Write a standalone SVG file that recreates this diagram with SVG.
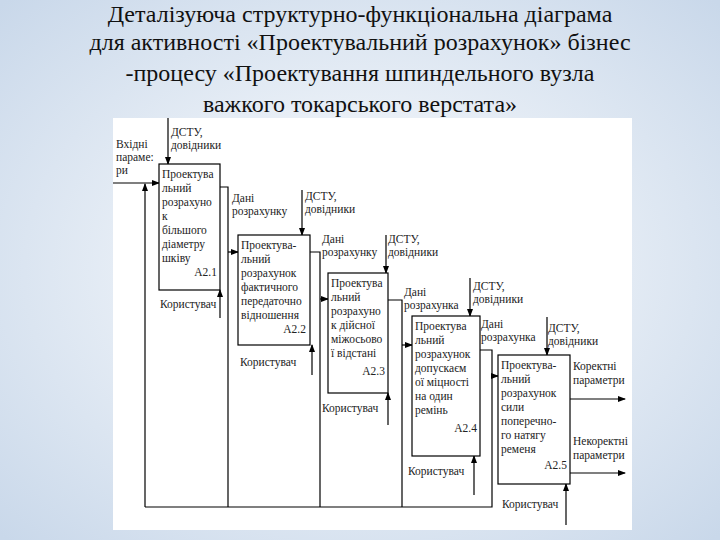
<svg xmlns="http://www.w3.org/2000/svg" width="720" height="540" viewBox="0 0 720 540">
<defs>
<radialGradient id="bg" cx="50%" cy="50%" r="70%"><stop offset="0" stop-color="#ffffff"/><stop offset="1" stop-color="#c9d8ea"/></radialGradient>
<marker id="ar" markerWidth="8" markerHeight="6" refX="7" refY="3" orient="auto" markerUnits="userSpaceOnUse"><path d="M0,0 L8,3 L0,6 z" fill="#000"/></marker>
<style>
.t{font-family:"Liberation Serif",serif;font-size:24px;fill:#111;text-anchor:middle}
.s{font-family:"Liberation Serif",serif;font-size:11.5px;fill:#222}
.b{fill:#fff;stroke:#000;stroke-width:1.2}
.l{fill:none;stroke:#000;stroke-width:1.2}
.a{fill:none;stroke:#000;stroke-width:1.2;marker-end:url(#ar)}
</style>
</defs>
<rect width="720" height="540" fill="url(#bg)"/>
<text class="t" x="360" y="22">Деталізуюча структурно-функціональна діаграма</text>
<text class="t" x="360" y="50">для активності «Проектувальний розрахунок» бізнес</text>
<text class="t" x="360" y="81">-процесу «Проектування шпиндельного вузла</text>
<text class="t" x="360" y="112">важкого токарського верстата»</text>
<rect x="113" y="118" width="519" height="412" fill="#fff"/>
<g id="connectors">
<path class="a" d="M113,183 H159"/>
<path class="a" d="M168,118 V164"/>
<path class="a" d="M220,318 V290"/>
<path class="l" d="M220,187 H228 V507"/>
<path class="a" d="M228,252 H238"/>
<path class="a" d="M302,190 V235"/>
<path class="a" d="M312,375 V345"/>
<path class="l" d="M310,252 H320 V507"/>
<path class="a" d="M320,299 H328"/>
<path class="a" d="M386,235 V273"/>
<path class="a" d="M388,425 V393"/>
<path class="l" d="M388,300 H402 V507"/>
<path class="a" d="M402,345 H412"/>
<path class="a" d="M470,278 V316"/>
<path class="a" d="M474,495 V456"/>
<path class="l" d="M480,350 H492 V507 H145"/>
<path class="a" d="M145,507 V184"/>
<path class="a" d="M492,376 H498"/>
<path class="a" d="M547,317 V355"/>
<path class="a" d="M566,525 V484"/>
<path class="a" d="M570,399 H625"/>
<path class="a" d="M570,473 H625"/>
</g>
<g id="labels" class="s">
<text x="116" y="148">Вхідні</text><text x="116" y="161">параме:</text><text x="116" y="174">ри</text>
<text x="171" y="136">ДСТУ,</text><text x="171" y="149">довідники</text>
<text x="232" y="202">Дані</text><text x="232" y="215">розрахунку</text>
<text x="305" y="200">ДСТУ,</text><text x="305" y="213">довідники</text>
<text x="322" y="243">Дані</text><text x="322" y="256">розрахунку</text>
<text x="388" y="243">ДСТУ,</text><text x="388" y="256">довідники</text>
<text x="404" y="296">Дані</text><text x="404" y="309">розрахунка</text>
<text x="473" y="290">ДСТУ,</text><text x="473" y="303">довідники</text>
<text x="481" y="328">Дані</text><text x="481" y="341">розрахунка</text>
<text x="548" y="332">ДСТУ,</text><text x="548" y="345">довідники</text>
<text x="573" y="370">Коректні</text><text x="573" y="384">параметри</text>
<text x="573" y="445">Некоректні</text><text x="573" y="459">параметри</text>
<text x="160" y="308">Користувач</text>
<text x="240" y="366">Користувач</text>
<text x="322" y="412">Користувач</text>
<text x="408" y="475">Користувач</text>
<text x="502" y="508">Користувач</text>
</g>
<g id="A2.1"><rect class="b" x="159" y="164" width="61" height="126"/>
<text class="s"><tspan x="162" y="178">Проектува</tspan><tspan x="162" y="192">льний</tspan><tspan x="162" y="206">розрахуно</tspan><tspan x="162" y="220">к</tspan><tspan x="162" y="234">більшого</tspan><tspan x="162" y="248">діаметру</tspan><tspan x="162" y="262">шківу</tspan></text>
<text class="s" x="217" y="276" text-anchor="end">А2.1</text></g>
<g id="A2.2"><rect class="b" x="238" y="235" width="72" height="110"/>
<text class="s"><tspan x="241" y="249">Проектува-</tspan><tspan x="241" y="263">льний</tspan><tspan x="241" y="277">розрахунок</tspan><tspan x="241" y="291">фактичного</tspan><tspan x="241" y="305">передаточно</tspan><tspan x="241" y="319">відношення</tspan></text>
<text class="s" x="306" y="333" text-anchor="end">А2.2</text></g>
<g id="A2.3"><rect class="b" x="328" y="273" width="60" height="120"/>
<text class="s"><tspan x="331" y="287">Проектува</tspan><tspan x="331" y="301">льний</tspan><tspan x="331" y="315">розрахуно</tspan><tspan x="331" y="329">к дійсної</tspan><tspan x="331" y="343">міжосьово</tspan><tspan x="331" y="357">ї відстані</tspan></text>
<text class="s" x="385" y="375" text-anchor="end">А2.3</text></g>
<g id="A2.4"><rect class="b" x="412" y="316" width="68" height="140"/>
<text class="s"><tspan x="415" y="330">Проектува</tspan><tspan x="415" y="344">льний</tspan><tspan x="415" y="358">розрахунок</tspan><tspan x="415" y="372">допускаєм</tspan><tspan x="415" y="386">ої міцності</tspan><tspan x="415" y="400">на один</tspan><tspan x="415" y="414">ремінь</tspan></text>
<text class="s" x="477" y="432" text-anchor="end">А2.4</text></g>
<g id="A2.5"><rect class="b" x="498" y="355" width="72" height="129"/>
<text class="s"><tspan x="501" y="369">Проектува-</tspan><tspan x="501" y="383">льний</tspan><tspan x="501" y="397">розрахунок</tspan><tspan x="501" y="411">сили</tspan><tspan x="501" y="425">поперечно-</tspan><tspan x="501" y="439">го натягу</tspan><tspan x="501" y="453">ременя</tspan></text>
<text class="s" x="567" y="469" text-anchor="end">А2.5</text></g>
</svg>
